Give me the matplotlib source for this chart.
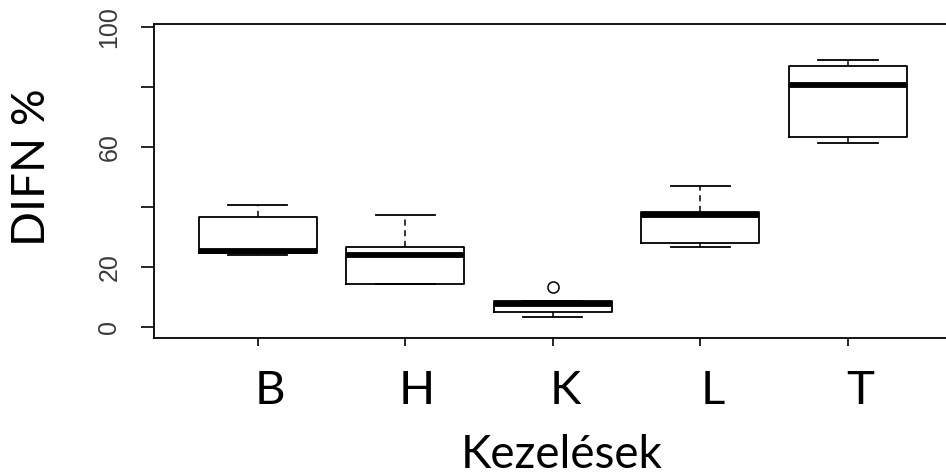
import matplotlib.pyplot as plt
from matplotlib.transforms import ScaledTranslation

# DIFN % per treatment, five-number summaries
kezelesek = ["B", "H", "K", "L", "T"]
minimum = [24.0, 14.3, 3.3, 26.7, 61.3]
q1 = [24.6, 14.3, 5.0, 28.0, 63.4]
median = [25.4, 24.0, 7.5, 37.3, 80.7]
q3 = [36.5, 26.7, 8.7, 38.4, 87.0]
maximum = [40.7, 37.3, 8.7, 47.0, 89.0]
outliers = [[], [], [13.3], [], []]

W, H = 946, 476
fig = plt.figure(figsize=(W / 100, H / 100), dpi=100)
ax = fig.add_axes([154 / W, 1 - 338 / H, (W - 154) / W, (338 - 24) / H])

stats = []
for i, name in enumerate(kezelesek):
    stats.append(dict(label=name, whislo=minimum[i], q1=q1[i], med=median[i],
                      q3=q3[i], whishi=maximum[i], fliers=outliers[i]))

pos = list(range(1, len(kezelesek) + 1))
ax.bxp(stats, positions=pos, widths=0.8, capwidths=0.4, showfliers=True,
       boxprops=dict(color="black", linewidth=1.3),
       medianprops=dict(color="black", linewidth=4.2, solid_capstyle="butt"),
       whiskerprops=dict(color="black", linewidth=1.1, linestyle=(0, (4, 3))),
       capprops=dict(color="black", linewidth=1.3),
       flierprops=dict(marker="o", markerfacecolor="white", markeredgecolor="black",
                       markersize=8, markeredgewidth=1.1, linestyle="none"))

ax.set_xlim(0.298, 5.664)
ax.set_ylim(-3.67, 101)
ax.spines["right"].set_visible(False)
for s in ["left", "bottom", "top"]:
    ax.spines[s].set_linewidth(1.3)

ax.set_yticks([0, 20, 40, 60, 80, 100])
ax.set_yticklabels(["0", "20", "", "60", "", "100"], rotation=90, va="center",
                   fontsize=18, family="Liberation Sans", color="#3a3a3a")
ax.tick_params(axis="y", length=9.5, width=1.2, pad=14)

ax.set_xticks(pos)
ax.set_xticklabels(kezelesek, fontsize=34, family="Lato")
ax.tick_params(axis="x", length=6, width=1.2, pad=17)
for lab in ax.get_xticklabels():
    lab.set_transform(lab.get_transform() + ScaledTranslation(0.12, 0, fig.dpi_scale_trans))

fig.text(32 / W, 1 - 167 / H, "DIFN %", rotation=90, ha="center", va="center",
         fontsize=33, family="Lato")
fig.text(562 / W, 1 - 455 / H, "Kezelések", ha="center", va="center",
         fontsize=33, family="Lato")

fig.savefig("out.png", dpi=100)
